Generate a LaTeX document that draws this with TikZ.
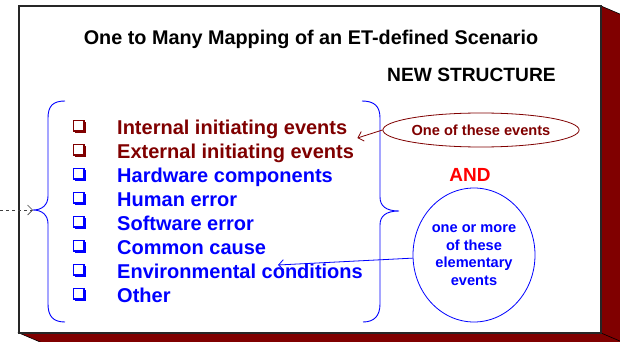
\documentclass[tikz,border=0pt]{standalone}
\usepackage{fontspec}
\setmainfont{Liberation Sans}
\usetikzlibrary{arrows.meta,shapes.geometric}
\definecolor{mroon}{HTML}{800000}
\definecolor{bblue}{HTML}{0000FF}
\definecolor{rred}{HTML}{FF0000}
\begin{document}
\begin{tikzpicture}[x=1pt,y=-1pt,
  item/.style={anchor=base west,inner sep=0pt,font=\fontsize{20}{22}\selectfont\bfseries},
  brace/.style={draw=bblue,line width=0.9pt},
  tip/.style={-{Straight Barb[length=5pt,width=10pt]}},
  chk/.pic={
    \draw[line width=1.2pt] (-6.5,-6.5) rectangle (4,4);
    \draw[line width=2pt] (-5,5.4) -- (5.4,5.4) -- (5.4,-5);
  }]
\clip (0,0) rectangle (620,342);
% 3D box
\fill[mroon,draw=black,line width=0.6pt] (19,333) -- (601,333) -- (601,6) -- (641,23) -- (641,350) -- (59,350) -- cycle;
\draw[black,line width=0.6pt] (601,333) -- (641,350);
\fill[white] (19,6) rectangle (601,333);
\draw[black!85,line width=1.8pt] (19,6) rectangle (601,333);
% titles
\node[anchor=base,inner sep=0pt,font=\fontsize{19.8}{22}\selectfont\bfseries] (title) at (311,45) {One to Many Mapping of an ET-defined Scenario};
\node[anchor=base west,inner sep=0pt,font=\fontsize{19.2}{22}\selectfont\bfseries] (news) at (387,82) {NEW STRUCTURE};
% items
\node[item,text=mroon] (i1) at (117,134) {Internal initiating events};
\node[item,text=mroon] (i2) at (117,158) {External initiating events};
\node[item,text=bblue] (i3) at (117,182) {Hardware components};
\node[item,text=bblue] (i4) at (117,206) {Human error};
\node[item,text=bblue] (i5) at (117,230) {Software error};
\node[item,text=bblue] (i6) at (117,254) {Common cause};
\node[item,text=bblue] (i7) at (117,278) {Environmental conditions};
\node[item,text=bblue] (i8) at (117,302) {Other};
\pic[mroon] at (80,127) {chk};
\pic[mroon] at (80,151) {chk};
\pic[bblue] at (80,175) {chk};
\pic[bblue] at (80,199) {chk};
\pic[bblue] at (80,223) {chk};
\pic[bblue] at (80,247) {chk};
\pic[bblue] at (80,271) {chk};
\pic[bblue] at (80,295) {chk};
% braces
\coordinate (lb) at (33,210);
\coordinate (start) at (0,210);
\draw[brace] (65,101) .. controls (53,101) and (48,106) .. (48,118) -- (48,196) .. controls (48,205) and (42,210) .. (lb)
  .. controls (42,210) and (48,215) .. (48,224) -- (48,304) .. controls (48,316) and (53,322) .. (65,322);
\coordinate (rb) at (399,211);
\draw[brace] (362,101) .. controls (374,101) and (380,106) .. (380,118) -- (380,197) .. controls (380,206) and (386,211) .. (rb)
  .. controls (386,211) and (380,216) .. (380,225) -- (380,304) .. controls (380,316) and (374,322) .. (363,322);
\draw[tip,dashed,black!75,line width=0.7pt] (start) -- (lb);
% right side
\node[ellipse,draw=mroon,line width=0.8pt,minimum width=175pt,minimum height=34pt,inner sep=0pt,
  text=mroon,font=\fontsize{14.6}{16}\selectfont\bfseries] (ev) at (481,130) {One of these events};
\draw[tip,mroon,line width=0.8pt] (ev.west) -- ([xshift=10pt,yshift=-4pt]i1.base east);
\node[text=rred,font=\fontsize{19}{22}\selectfont\bfseries,inner sep=0pt] (and) at (470,175) {AND};
\node[ellipse,draw=bblue,line width=0.8pt,minimum width=122pt,minimum height=134pt,inner sep=0pt,
  text=bblue,align=center,font=\fontsize{14.6}{17.7}\selectfont\bfseries] (circ) at (474,255) {one or more\\of these\\elementary\\events};
\coordinate (envtip) at (278,265);
\draw[tip,bblue,line width=0.8pt] (circ) -- (envtip);
\end{tikzpicture}
\end{document}
